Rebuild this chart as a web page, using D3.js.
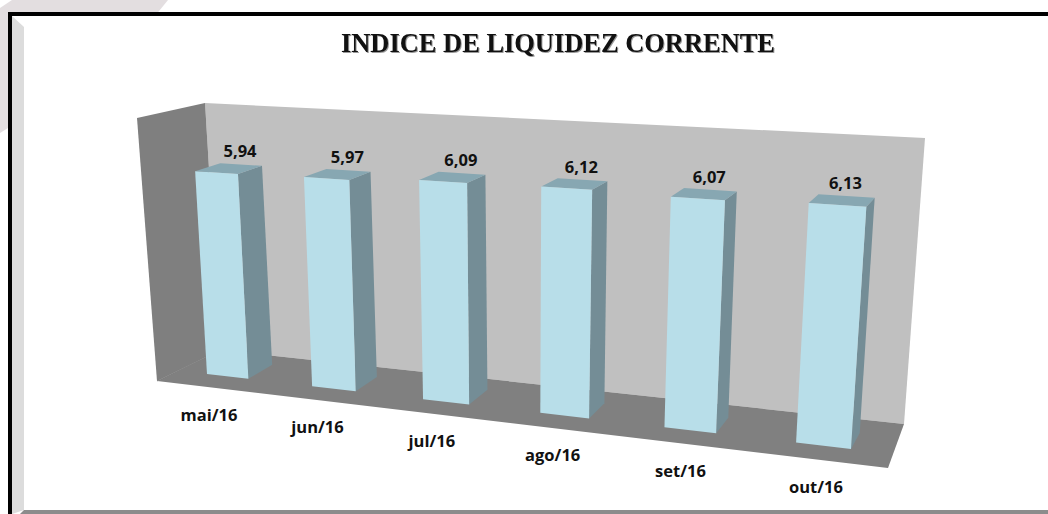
<!DOCTYPE html>
<html>
<head>
<meta charset="utf-8">
<script src="https://cdn.jsdelivr.net/npm/d3@7"></script>
<style>
  html, body { margin: 0; padding: 0; background: #fff; }
  svg { display: block; }
  .title { font-family: "Liberation Serif", serif; font-weight: bold; font-size: 27px; fill: #111; filter: drop-shadow(1.5px 1px 0 #999); }
  .lbl { font-family: "Open Sans", sans-serif; font-weight: bold; font-size: 16.5px; fill: #111; text-anchor: middle; }
</style>
</head>
<body>
<div class="chart"></div>
<script>
var titleText = "INDICE DE LIQUIDEZ CORRENTE";
var categories = ["mai/16", "jun/16", "jul/16", "ago/16", "set/16", "out/16"];
var values = [5.94, 5.97, 6.09, 6.12, 6.07, 6.13];

var svgWidth = 1048;
var svgHeight = 514;

var svg = d3.select(".chart").append("svg")
  .attr("width", svgWidth)
  .attr("height", svgHeight);

var line = d3.line();

// page decoration behind and around the frame
svg.append("path").attr("fill", "#e3dee0")
  .attr("d", line([[12, 0], [168, 0], [155, 16], [8, 16], [8, 128], [0, 133], [0, 8]]));
svg.append("path").attr("fill", "#dcdcdc")
  .attr("d", line([[12, 16], [24, 27], [24, 510], [12, 514]]));
svg.append("path").attr("fill", "#8c8c8c")
  .attr("d", line([[24, 510], [1048, 510], [1048, 514], [20, 514]]));
svg.append("rect").attr("x", 8).attr("y", 12).attr("width", 1040).attr("height", 4).attr("fill", "#000");
svg.append("rect").attr("x", 8).attr("y", 12).attr("width", 4).attr("height", 502).attr("fill", "#000");

// title
svg.append("text")
  .attr("class", "title")
  .attr("x", 558)
  .attr("y", 52)
  .attr("text-anchor", "middle")
  .attr("textLength", 434)
  .attr("lengthAdjust", "spacingAndGlyphs")
  .text(titleText);

// the walls of the 3d box
var backWall = [[205, 103], [925, 138], [904, 424], [220, 350]];
var sideWall = [[137, 118], [205, 103], [220, 350], [157, 381]];
var floor = [[157, 381], [220, 350], [904, 424], [888, 468]];

svg.append("path").attr("fill", "#c0c0c0").attr("d", line(backWall));
svg.append("path").attr("fill", "#7f7f7f").attr("d", line(sideWall));
svg.append("path").attr("fill", "#808080").attr("d", line(floor));
svg.append("path").attr("fill", "none").attr("stroke", "#777").attr("stroke-width", 0.6)
  .attr("d", line([[157, 381], [220, 350]]));

// maps the unit square to a quad (bottom-left, bottom-right, top-right, top-left)
function homography(q) {
  var dx1 = q[1][0] - q[2][0], dx2 = q[3][0] - q[2][0], sx = q[0][0] - q[1][0] + q[2][0] - q[3][0];
  var dy1 = q[1][1] - q[2][1], dy2 = q[3][1] - q[2][1], sy = q[0][1] - q[1][1] + q[2][1] - q[3][1];
  var det = dx1 * dy2 - dx2 * dy1;
  var g = (sx * dy2 - dx2 * sy) / det;
  var h = (dx1 * sy - sx * dy1) / det;
  var a = q[1][0] - q[0][0] + g * q[1][0], b = q[3][0] - q[0][0] + h * q[3][0];
  var d = q[1][1] - q[0][1] + g * q[1][1], e = q[3][1] - q[0][1] + h * q[3][1];
  return function(u, v) {
    var w = g * u + h * v + 1;
    return [(a * u + b * v + q[0][0]) / w, (d * u + e * v + q[0][1]) / w];
  };
}

// front plane of the bars, v = 1 is the value 6 on the axis
var front = homography([[207, 374], [851, 449], [866, 212], [195, 169]]);

// depth of a bar on screen, it gets shorter going right
var depthX = d3.scaleLinear().domain([240, 860]).range([24, 8.5]);
var depthBottom = d3.scaleLinear().domain([249, 851]).range([-14, -16]);
var depthTop = d3.scaleLinear().domain([238, 866]).range([-8, -9]);

function back(u, v) {
  var p = front(u, v);
  var dy = depthBottom(p[0]) + (depthTop(p[0]) - depthBottom(p[0])) * v;
  return [p[0] + depthX(p[0]), p[1] + dy];
}

var xScale = d3.scaleBand().domain(categories).range([0, 1]).paddingInner(0.6).paddingOuter(0);
var yScale = d3.scaleLinear().domain([0, 6]).range([0, 1]);

var bars = svg.selectAll(".bar")
  .data(categories.map(function(c, i) { return { cat: c, val: values[i] }; }))
  .enter()
  .append("g")
  .attr("class", "bar");

function corners(d) {
  var u0 = xScale(d.cat), u1 = u0 + xScale.bandwidth(), v = yScale(d.val);
  return {
    fbl: front(u0, 0), fbr: front(u1, 0), ftr: front(u1, v), ftl: front(u0, v),
    bbr: back(u1, 0), btr: back(u1, v), btl: back(u0, v)
  };
}

// side
bars.append("path").attr("fill", "#748d96")
  .attr("d", function(d) { var c = corners(d); return line([c.fbr, c.bbr, c.btr, c.ftr]); });
// top
bars.append("path").attr("fill", "#87a7b2")
  .attr("d", function(d) { var c = corners(d); return line([c.ftl, c.ftr, c.btr, c.btl]); });
// front
bars.append("path").attr("fill", "#b8dee9")
  .attr("d", function(d) { var c = corners(d); return line([c.fbl, c.fbr, c.ftr, c.ftl]); });

// value labels
var ptBr = d3.formatLocale({ decimal: ",", thousands: ".", grouping: [3], currency: ["", ""] });
var fmt = ptBr.format(".2f");

bars.append("text")
  .attr("class", "lbl")
  .attr("x", function(d) { return back(xScale(d.cat) + xScale.bandwidth() / 2, yScale(d.val))[0] - 1; })
  .attr("y", function(d) { return back(xScale(d.cat) + xScale.bandwidth() / 2, yScale(d.val))[1] - 7; })
  .text(function(d) { return fmt(d.val); });

// category labels sit below the floor, offset shrinks a bit going right
var labelDx = d3.scaleLinear().domain([0, 1]).range([-19, -7]);
var labelDy = d3.scaleLinear().domain([0, 1]).range([44, 47]);

bars.append("text")
  .attr("class", "lbl")
  .attr("x", function(d) {
    var u = xScale(d.cat) + xScale.bandwidth() / 2;
    return front(u, 0)[0] + labelDx(u);
  })
  .attr("y", function(d) {
    var u = xScale(d.cat) + xScale.bandwidth() / 2;
    return front(u, 0)[1] + labelDy(u);
  })
  .text(function(d) { return d.cat; });
</script>
</body>
</html>
